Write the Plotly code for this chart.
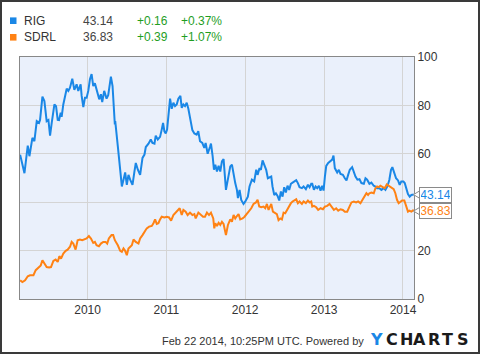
import plotly.graph_objects as go
import pandas as pd

# ---- data (x = decimal year) ----
rig_t = [2009.144, 2009.199, 2009.241, 2009.262, 2009.300, 2009.325, 2009.355, 2009.384, 2009.397, 2009.427,
         2009.452, 2009.481, 2009.503, 2009.524, 2009.545, 2009.579, 2009.600, 2009.621, 2009.638, 2009.659,
         2009.671, 2009.692, 2009.735, 2009.756, 2009.777, 2009.806, 2009.832, 2009.861, 2009.882, 2009.912,
         2009.925, 2009.946, 2009.967, 2009.988, 2010.009, 2010.030, 2010.051, 2010.072, 2010.093, 2010.123,
         2010.148, 2010.169, 2010.186, 2010.211, 2010.241, 2010.262, 2010.275, 2010.296, 2010.317, 2010.346,
         2010.351, 2010.384, 2010.414, 2010.435, 2010.456, 2010.477, 2010.498, 2010.519, 2010.540, 2010.570,
         2010.595, 2010.612, 2010.638, 2010.667, 2010.697, 2010.722, 2010.739, 2010.773, 2010.802, 2010.823,
         2010.849, 2010.865, 2010.891, 2010.920, 2010.941, 2010.958, 2010.975, 2010.992, 2011.009, 2011.026,
         2011.047, 2011.068, 2011.089, 2011.110, 2011.131, 2011.152, 2011.178, 2011.195, 2011.216, 2011.237,
         2011.258, 2011.279, 2011.300, 2011.330, 2011.355, 2011.384, 2011.405, 2011.427, 2011.456, 2011.481,
         2011.498, 2011.524, 2011.553, 2011.566, 2011.587, 2011.604,
         2011.621, 2011.642, 2011.663, 2011.684, 2011.705, 2011.726, 2011.756, 2011.781, 2011.811, 2011.832,
         2011.853, 2011.874, 2011.895, 2011.908, 2011.929, 2011.950, 2011.979, 2012.000, 2012.034, 2012.055,
         2012.085, 2012.114, 2012.140, 2012.157, 2012.182, 2012.199, 2012.220, 2012.245, 2012.266, 2012.287,
         2012.309, 2012.330, 2012.346, 2012.368, 2012.389, 2012.410, 2012.431, 2012.452, 2012.473, 2012.494,
         2012.515, 2012.536, 2012.557, 2012.579, 2012.600, 2012.625, 2012.646, 2012.667, 2012.688, 2012.718,
         2012.739, 2012.768, 2012.794, 2012.815, 2012.836,
         2012.849, 2012.870, 2012.891, 2012.912, 2012.933, 2012.954, 2012.975, 2012.992, 2013.009, 2013.026,
         2013.051, 2013.081, 2013.102, 2013.118, 2013.135, 2013.165, 2013.186, 2013.207, 2013.237, 2013.262,
         2013.283, 2013.304, 2013.325, 2013.355, 2013.376, 2013.397, 2013.422, 2013.448, 2013.473, 2013.503,
         2013.524, 2013.545, 2013.574, 2013.599, 2013.629, 2013.650, 2013.671, 2013.701, 2013.726, 2013.756,
         2013.777, 2013.802, 2013.827, 2013.848, 2013.865, 2013.887, 2013.912, 2013.937, 2013.958, 2013.979,
         2014.005, 2014.022, 2014.043, 2014.063, 2014.085, 2014.106, 2014.137]
rig_v = [59.6, 52, 63.4, 59, 66.6, 65.2, 73.5, 72.8, 74, 83.6,
         81.8, 73.5, 74, 67.5, 72.8, 80.4, 79.7, 74, 73.9, 77,
         75.3, 80.4, 86.9, 86, 87.3, 91, 86.4, 88.7, 86, 88.7,
         83.9, 79.3, 83.2, 83.2, 86, 90.8, 92.9, 88, 89.1, 85.3,
         82.5, 84.6, 81.4, 86, 82.8, 84.2, 87.3, 91.9, 88, 72.1,
         73.5, 63.1, 53.4, 46.5, 49.3, 52.3, 47.2, 51.3, 49.3, 47.2,
         52.7, 56.2, 53.4, 51.3, 58.3, 59.7, 62.8, 64.2, 65.9, 64.5,
         64.2, 67.5, 65.9, 67, 70, 72.8, 69.3, 68.4, 70, 77,
         82.8, 78.6, 81.1, 79.7, 80.4, 82.8, 83.9, 79, 80.4, 79.7,
         81.1, 78.6, 74.2, 69.8, 68.4, 67.9, 69.3, 65.2, 64.5, 62.4,
         64.5, 60, 62.8, 64.2, 59, 53.4,
         55.5, 52.7, 55, 52.7, 56.9, 57.8, 45.1, 49.9, 54.8, 55.5,
         51.3, 47.9, 45.1, 41.7, 45.1, 40.9, 39.3, 40.2, 42.3, 46.5,
         49.3, 48.6, 53.4, 51.3, 54.1, 53.4, 57.3, 54.8, 53.4, 49.9,
         50.4, 50.6, 46.5, 43, 43.7, 42.6, 40.7, 44.4, 42.3, 46.2,
         44, 46.8, 45.1, 47.6, 48.1, 48.6, 49.1, 47.9, 46.2, 45.8,
         46.5, 45.4, 47.2, 46.2, 47.6,
         47.6, 45.1, 46.5, 45.8, 46.8, 44.8, 46.8, 44.8, 50.6, 55,
         56.2, 56.9, 57.6, 59.3, 54.1, 52.3, 53.4, 51.7, 51.3, 49.9,
         49, 51.3, 53.4, 54.5, 52, 50.6, 49.3, 49.5, 47.9, 47.6,
         49.9, 49.3, 47.6, 48.1, 46.8, 46.5, 45.8, 45.8, 45.1, 45.8,
         45.1, 46.5, 49.3, 53.4, 54.5, 52, 49.9, 49, 47.2, 48.6,
         48.6, 47.9, 45.1, 43.4, 42.3, 43, 43.14]

sdrl_t = [2009.144, 2009.173, 2009.207, 2009.241, 2009.270, 2009.313, 2009.342, 2009.376, 2009.406, 2009.427,
          2009.452, 2009.481, 2009.511, 2009.536, 2009.566, 2009.595, 2009.621, 2009.642, 2009.663, 2009.692,
          2009.722, 2009.747, 2009.777, 2009.798, 2009.819, 2009.848, 2009.874, 2009.903, 2009.933, 2009.958,
          2009.988, 2010.017, 2010.043, 2010.072, 2010.093, 2010.114, 2010.144, 2010.169, 2010.199, 2010.228,
          2010.249, 2010.270, 2010.304, 2010.325, 2010.346,
          2010.384, 2010.414, 2010.435, 2010.456, 2010.477, 2010.498, 2010.519, 2010.540, 2010.562, 2010.583,
          2010.612, 2010.646, 2010.667, 2010.697, 2010.722, 2010.751, 2010.781, 2010.815, 2010.836, 2010.857,
          2010.878, 2010.899, 2010.920, 2010.941, 2010.975, 2011.005, 2011.034, 2011.060, 2011.089, 2011.118,
          2011.144, 2011.169, 2011.195, 2011.216, 2011.245, 2011.270, 2011.300, 2011.330, 2011.355, 2011.372,
          2011.406, 2011.439, 2011.465, 2011.490, 2011.515, 2011.541, 2011.566, 2011.595, 2011.608,
          2011.621, 2011.642, 2011.663, 2011.684, 2011.705, 2011.726, 2011.756, 2011.781, 2011.811, 2011.832,
          2011.853, 2011.874, 2011.895, 2011.916, 2011.937, 2011.967, 2011.992, 2012.022, 2012.051, 2012.077,
          2012.106, 2012.136, 2012.157, 2012.178, 2012.203, 2012.233, 2012.254, 2012.275, 2012.296, 2012.317,
          2012.330, 2012.351, 2012.380, 2012.401, 2012.422, 2012.444, 2012.465, 2012.486, 2012.507, 2012.528,
          2012.549, 2012.579, 2012.600, 2012.625, 2012.646, 2012.667, 2012.688, 2012.718, 2012.739, 2012.768,
          2012.794, 2012.815, 2012.836,
          2012.849, 2012.870, 2012.899, 2012.924, 2012.954, 2012.984, 2013.009, 2013.038, 2013.068, 2013.093,
          2013.123, 2013.152, 2013.178, 2013.207, 2013.237, 2013.262, 2013.292, 2013.321, 2013.346, 2013.376,
          2013.406, 2013.431, 2013.460, 2013.490, 2013.515, 2013.536, 2013.557, 2013.574, 2013.599, 2013.629,
          2013.650, 2013.671, 2013.692, 2013.713, 2013.743, 2013.768, 2013.794, 2013.819, 2013.840, 2013.861,
          2013.882, 2013.903, 2013.924, 2013.945, 2013.966, 2013.988, 2014.017, 2014.038, 2014.063, 2014.081,
          2014.106, 2014.137]
sdrl_v = [7.7, 7.0, 7.7, 9.4, 9.8, 9.8, 11.9, 13, 13.9, 16,
          14.9, 13.2, 13, 13.2, 15.7, 16.3, 15.3, 17.7, 16.7, 18.8,
          19.9, 20.4, 21.6, 23.6, 22.9, 20.4, 24.3, 24.6, 24.3, 24.6,
          25, 26, 25, 23.2, 23.6, 22.2, 21.8, 22.9, 23.6, 23.6,
          22.9, 25, 26.4, 26.4, 24.3,
          22.2, 19.9, 19.5, 20.9, 19.9, 18.1, 20.9, 21.6, 22.2, 24.6,
          23.6, 22.9, 25, 26.4, 27.8, 29.2, 29.9, 30.2, 31.3, 32.9,
          31, 31.3, 32.9, 34, 33.7, 34, 33.7, 32.4, 34.7, 35.7,
          36.5, 37.5, 34.7, 36.8, 36.1, 34.7, 35.7, 34.7, 35.1, 33.3,
          35.7, 34.7, 34, 34, 35.7, 34.7, 35.7, 33.3, 29.2,
          31.3, 30.2, 31.5, 30.6, 31.9, 31, 26.4, 30.6, 32.9, 31.9,
          34.7, 33.3, 34.3, 35.1, 32.9, 33.3, 34, 35.1, 36.1, 37.5,
          39.3, 39.9, 41, 38.2, 37.9, 38.2, 37.5, 39.3, 36.8, 38.2,
          39.3, 36.1, 35.7, 35.1, 32.6, 33.3, 32.9, 35.7, 35.4, 36.8,
          38.2, 39.6, 40.3, 41, 41.2, 39.6, 40.3, 39.3, 40.3, 39.6,
          40.7, 39.9, 40.3,
          38.2, 38.5, 37.9, 36.8, 37.5, 37.1, 38.2, 38.5, 39.3, 38.2,
          36.8, 37.5, 36.5, 37.1, 36.8, 36.1, 36.1, 38.2, 39.9, 40.3,
          39.9, 40.3, 39.6, 41.2, 42.3, 43.7, 43, 43.7, 44, 43.7,
          45.8, 46.5, 46.2, 46.8, 46.2, 45.8, 47.3, 46.8, 46.5, 45.8,
          45.4, 43.7, 41, 39.6, 40.3, 40.7, 40.7, 38.9, 36.1, 36.5,
          36.1, 36.83]

names = ["RIG", "SDRL"]
prices = ["43.14", "36.83"]
changes = ["+0.16", "+0.39"]
pct = ["+0.37%", "+1.07%"]
y_ticks = [0, 20, 40, 60, 80, 100]
stamp = "Feb 22 2014, 10:25PM UTC."
logo = "YCHARTS"

BLUE = "#1a87e6"
ORANGE = "#ff8214"
GREEN = "#1f9e1f"
FONT = "Liberation Sans, Arial, sans-serif"


def to_dt(y):
    yr = int(y)
    a = pd.Timestamp(yr, 1, 1)
    b = pd.Timestamp(yr + 1, 1, 1)
    return a + (b - a) * (y - yr)


rig_x = [to_dt(t) for t in rig_t]
sdrl_x = [to_dt(t) for t in sdrl_t]

W, H = 480, 354
L, R, T, B = 20, 66, 57, 55
pw, ph = W - L - R, H - T - B


def px(x):
    return (x - L) / pw


def py(y):
    return (H - B - y) / ph


def val_to_py(v):
    return H - B - v / 100 * ph


def py_to_val(p):
    return (H - B - p) / ph * 100


# end-label placement (pixel rows), keep boxes from overlapping
BOX_H = 16
last_vals = [rig_v[-1], sdrl_v[-1]]
label_rows = [val_to_py(last_vals[0])]
label_rows.append(max(val_to_py(last_vals[1]), label_rows[0] + BOX_H + 0.5))

# hide y tick labels that sit under the end-label boxes
ticktext = []
for t in y_ticks:
    yp = val_to_py(t)
    hidden = any(abs(yp - r) < BOX_H / 2 + 2 for r in label_rows)
    ticktext.append("" if hidden else str(t))

fig = go.Figure()
fig.add_trace(go.Scatter(x=rig_x, y=rig_v, mode="lines", line=dict(color=BLUE, width=2), name="RIG"))
fig.add_trace(go.Scatter(x=sdrl_x, y=sdrl_v, mode="lines", line=dict(color=ORANGE, width=2), name="SDRL"))

fig.update_layout(
    width=W, height=H, margin=dict(l=L, r=R, t=T, b=B),
    paper_bgcolor="white", plot_bgcolor="#eaf0fb",
    showlegend=False,
    font=dict(family=FONT, size=12, color="#333"),
    xaxis=dict(type="date", range=["2009-02-22", "2014-02-21"], showgrid=True, gridcolor="#d4d4d4",
               gridwidth=1, tickformat="%Y", dtick="M12", tick0="2010-01-01", ticks="",
               showline=True, linecolor="#888", linewidth=1, mirror=True, zeroline=False,
               tickfont=dict(size=12, color="#333")),
    yaxis=dict(range=[0, 100], tickvals=y_ticks, ticktext=ticktext, side="right", showgrid=True,
               gridcolor="#d4d4d4", gridwidth=1, ticks="", showline=True, linecolor="#888", linewidth=1,
               mirror=True, zeroline=False, tickfont=dict(size=12, color="#333")),
)

anns = []
shapes = []
colors = [BLUE, ORANGE]
rows = [20.7, 37.3]
for i in range(2):
    yc = rows[i]
    shapes.append(dict(type="rect", xref="paper", yref="paper", x0=px(10), x1=px(16.5),
                       y0=py(yc + 3.3), y1=py(yc - 3.3), fillcolor=colors[i], line=dict(width=0)))
    for txt, x0, col in [(names[i], 22, "#333"), (prices[i], 81, "#444"),
                         (changes[i], 135, GREEN), (pct[i], 178.5, GREEN)]:
        anns.append(dict(text=txt, xref="paper", yref="paper", x=px(x0), y=py(yc), xanchor="left",
                         yanchor="middle", showarrow=False, font=dict(size=12, color=col)))

# end value labels with pointer
for i in range(2):
    r = label_rows[i]
    anns.append(dict(text=prices[i], xref="paper", yref="paper", x=px(419), y=py(r), xanchor="left",
                     yanchor="middle", showarrow=False, font=dict(size=12, color=colors[i]),
                     bgcolor="white", bordercolor="#8a8a8a", borderwidth=1, borderpad=1,
                     width=29, height=12))
    shapes.append(dict(type="path", xref="paper", yref="paper",
                       path=f"M {px(419.8)},{py(r - 3.8)} L {px(413.5)},{py(r)} L {px(419.8)},{py(r + 3.8)}",
                       line=dict(color="#8a8a8a", width=1), fillcolor="white"))

# footer
anns.append(dict(text=stamp + " Powered by", xref="paper", yref="paper", x=px(366), y=py(341),
                 xanchor="right", yanchor="middle", showarrow=False, font=dict(size=11, color="#333")))
letter_x = [376.5, 391.5, 406, 419.5, 434, 448, 462.5]
for ch, lx in zip(logo, letter_x):
    anns.append(dict(text="<b>%s</b>" % ch, xref="paper", yref="paper", x=px(lx), y=py(339.5),
                     xanchor="center", yanchor="middle", showarrow=False,
                     font=dict(size=16, color=BLUE if ch == "Y" and lx == letter_x[0] else "#1a1a1a",
                               family="DejaVu Sans, sans-serif")))

# outer frame
shapes.append(dict(type="rect", xref="paper", yref="paper", x0=px(1), x1=px(479), y0=py(353), y1=py(1),
                   line=dict(color="#3a3a3a", width=2), fillcolor="rgba(0,0,0,0)"))

fig.update_layout(annotations=anns, shapes=shapes)
fig.write_html("out.html")
